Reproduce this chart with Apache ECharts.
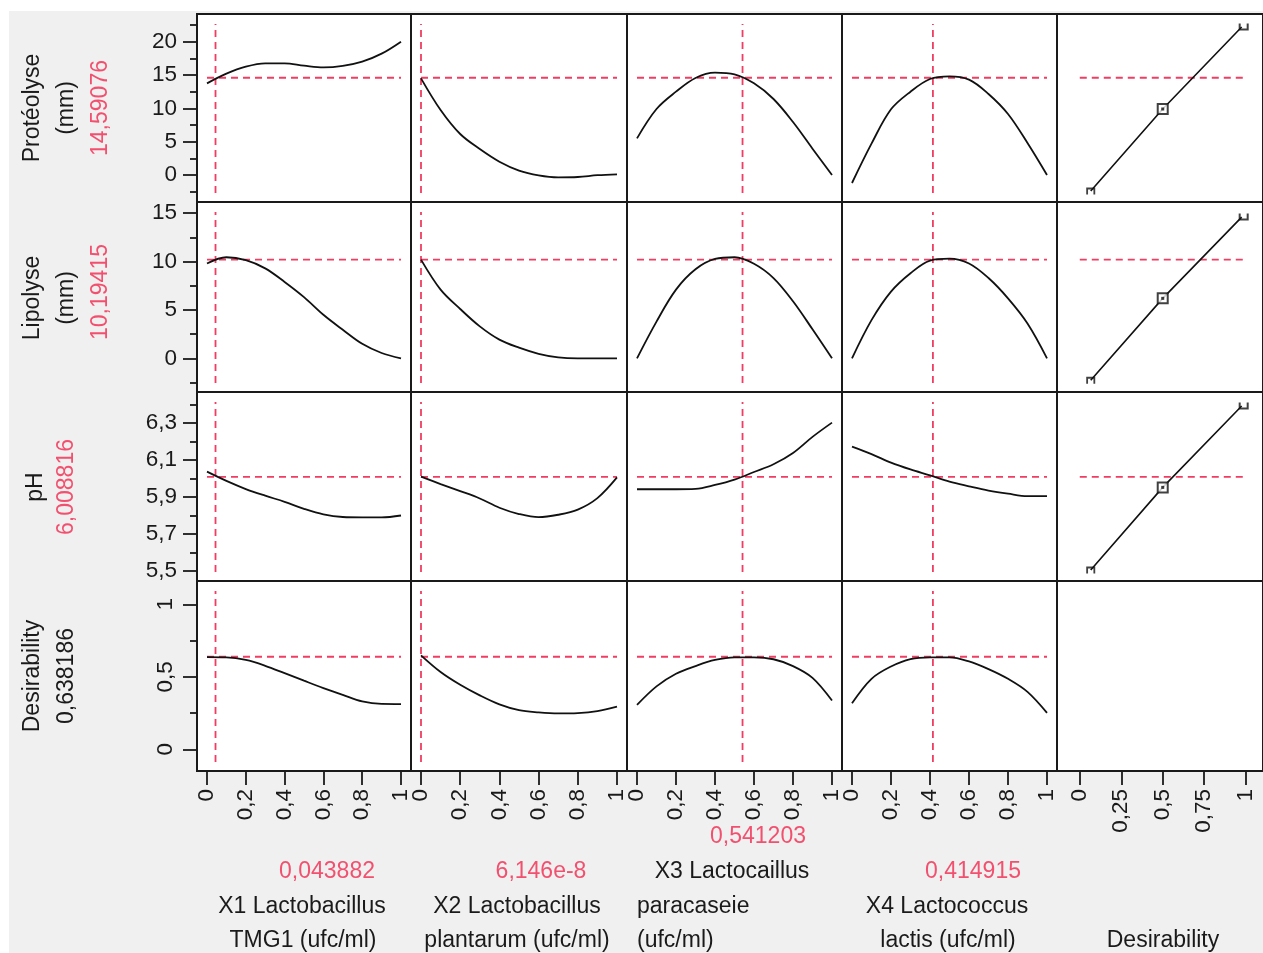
<!DOCTYPE html>
<html>
<head>
<meta charset="utf-8">
<script src="https://cdn.jsdelivr.net/npm/echarts@6/dist/echarts.min.js"></script>
<style>
  html, body { margin: 0; padding: 0; background: #fff; }
  #wrap { position: relative; width: 1263px; height: 953px; background: #fff; overflow: hidden; }
  #gray { position: absolute; left: 9px; top: 11px; width: 1254px; height: 942px; background: #f0f0f0; }
  #chart { position: absolute; left: 0; top: 0; width: 1263px; height: 953px; }
</style>
</head>
<body>
<div id="wrap"><div id="gray"></div><div id="chart"></div></div>
<script>
// ---------------- DATA ----------------
const xGrid = [0, 0.1, 0.2, 0.3, 0.4, 0.5, 0.6, 0.7, 0.8, 0.9, 1];

// Protéolyse (mm)
const protX1 = [13.75, 15.2, 16.25, 16.75, 16.75, 16.4, 16.13, 16.36, 17.0, 18.2, 20.0];
const protX2 = [14.5, 9.75, 6.15, 3.9, 2.0, 0.67, -0.05, -0.35, -0.3, -0.03, 0.1];
const protX3 = [5.5, 9.9, 12.5, 14.55, 15.35, 15.1, 13.75, 11.4, 7.95, 3.95, 0];
const protX4 = [-1.2, 4.7, 9.85, 12.5, 14.4, 14.8, 14.3, 12.15, 9.15, 4.8, 0];

// Lipolyse (mm)
const lipoX1 = [9.8, 10.45, 10.15, 9.3, 7.9, 6.33, 4.5, 2.95, 1.5, 0.55, 0];
const lipoX2 = [10.2, 7.1, 5.1, 3.3, 1.93, 1.1, 0.47, 0.1, 0, 0, 0];
const lipoX3 = [0, 3.8, 7.1, 9.2, 10.27, 10.45, 9.78, 8.3, 5.9, 3.0, 0];
const lipoX4 = [0, 3.95, 6.9, 8.8, 10.1, 10.3, 9.8, 8.3, 6.2, 3.6, 0];

// pH
const phX1 = [6.037, 5.987, 5.943, 5.907, 5.874, 5.836, 5.806, 5.792, 5.79, 5.79, 5.80];
const phX2 = [6.010, 5.970, 5.932, 5.892, 5.842, 5.808, 5.791, 5.804, 5.832, 5.894, 6.006];
const phX3 = [5.942, 5.942, 5.942, 5.944, 5.965, 5.994, 6.035, 6.077, 6.138, 6.225, 6.302];
const phX4 = [6.172, 6.132, 6.086, 6.049, 6.017, 5.983, 5.958, 5.935, 5.918, 5.905, 5.905];

// Desirability
const desX1 = [0.636, 0.634, 0.616, 0.576, 0.525, 0.473, 0.422, 0.375, 0.33, 0.313, 0.312];
const desX2 = [0.648, 0.533, 0.445, 0.372, 0.31, 0.27, 0.255, 0.248, 0.25, 0.263, 0.294];
const desX3 = [0.306, 0.434, 0.521, 0.574, 0.616, 0.634, 0.634, 0.621, 0.574, 0.493, 0.336];
const desX4 = [0.317, 0.486, 0.571, 0.622, 0.634, 0.634, 0.606, 0.553, 0.486, 0.396, 0.251];

// current factor settings (red vertical lines) and predicted responses (red horizontal lines)
const factorSettings = [0.043882, 6.146e-8, 0.541203, 0.414915];
const factorSettingLabels = ['0,043882', '6,146e-8', '0,541203', '0,414915'];
const predicted = [14.59076, 10.19415, 6.008816, 0.638186];
const predictedLabels = ['14,59076', '10,19415', '6,008816', '0,638186'];

// desirability function handles (desirability, response) for the 3 responses
const desHandleD = [0.066, 0.5, 0.976];
const desHandleProt = [-2.4, 9.9, 22.2];
const desHandleLipo = [-2.27, 6.2, 14.6];
const desHandlePH = [5.505, 5.952, 6.392];

// axis ranges and ticks
const yRanges = [[-4.05, 24.15], [-3.48, 16.16], [5.4459, 6.4676], [-0.1497, 1.1607]];
const yMajorTicks = [[0, 5, 10, 15, 20], [0, 5, 10, 15], [5.5, 5.7, 5.9, 6.1, 6.3], [0, 0.5, 1]];
const yMinorTicks = [[-2.5, 2.5, 7.5, 12.5, 17.5, 22.5], [-2.5, 2.5, 7.5, 12.5], [5.6, 5.8, 6.0, 6.2, 6.4], [0.25, 0.75]];
const xFactorTicks = [0, 0.2, 0.4, 0.6, 0.8, 1];
const xDesTicks = [0, 0.25, 0.5, 0.75, 1];

const curves = [
  [protX1, protX2, protX3, protX4],
  [lipoX1, lipoX2, lipoX3, lipoX4],
  [phX1, phX2, phX3, phX4],
  [desX1, desX2, desX3, desX4]
];
const desHandles = [desHandleProt, desHandleLipo, desHandlePH];

// ---------------- LAYOUT ----------------
const colLeft = [197, 411, 627, 842, 1057];
const colWidth = [214, 216, 215, 215, 208];
const rowTop = [14, 202, 392, 581];
const rowHeight = [188, 190, 189, 190];
const desPxPerUnit = 167.5, desZeroOffset = 23;

const FONT = '"Liberation Sans", Arial, sans-serif';
const TXT = '#1a1a1a';
const RED_TXT = '#f2506e';
const RED_LINE = '#f23c62';
const fmt = v => String(Math.round(v * 1000) / 1000).replace('.', ',');

const grids = [], xAxes = [], yAxes = [], series = [];

for (let r = 0; r < 4; r++) {
  for (let c = 0; c < 5; c++) {
    const g = r * 5 + c;
    grids.push({
      left: colLeft[c], top: rowTop[r], width: colWidth[c], height: rowHeight[r],
      show: true, backgroundColor: '#ffffff', borderColor: '#1a1a1a', borderWidth: 2
    });
    let xmin, xmax, xt;
    if (c < 4) {
      const span = colWidth[c] - 20;
      xmin = -10 / span; xmax = 1 + 10 / span; xt = xFactorTicks;
    } else {
      xmin = -desZeroOffset / desPxPerUnit; xmax = xmin + colWidth[c] / desPxPerUnit; xt = xDesTicks;
    }
    xAxes.push({
      gridIndex: g, type: 'value', min: xmin, max: xmax, position: 'bottom',
      axisLine: { show: false, onZero: false }, splitLine: { show: false },
      axisTick: { show: r === 3, inside: false, length: 14, customValues: xt, lineStyle: { color: TXT, width: 1.8 } },
      axisLabel: { show: r === 3, customValues: xt, rotate: 90, margin: 18, formatter: fmt,
        fontSize: 22.5, color: TXT, fontFamily: FONT }
    });
    yAxes.push({
      gridIndex: g, type: 'value', min: yRanges[r][0], max: yRanges[r][1], position: 'left',
      axisLine: { show: false, onZero: false }, splitLine: { show: false },
      axisTick: { show: c === 0, inside: false, length: 14, customValues: yMajorTicks[r], lineStyle: { color: TXT, width: 1.8 } },
      axisLabel: { show: c === 0, customValues: yMajorTicks[r], formatter: fmt, margin: 20,
        rotate: r === 3 ? 90 : 0, fontSize: 22.5, color: TXT, fontFamily: FONT }
    });

    const yr = yRanges[r];
    const ySpan = yr[1] - yr[0];
    const yLo = yr[0] + ySpan * 9 / rowHeight[r];
    const yHi = yr[1] - ySpan * 10 / rowHeight[r];
    const dash = { color: RED_LINE, width: 1.8, type: [7, 5] };

    if (c < 4) {
      series.push({
        type: 'line', xAxisIndex: g, yAxisIndex: g, silent: true, symbol: 'none', z: 2,
        lineStyle: dash, data: [[factorSettings[c], yLo], [factorSettings[c], yHi]]
      });
      series.push({
        type: 'line', xAxisIndex: g, yAxisIndex: g, silent: true, symbol: 'none', z: 2,
        lineStyle: dash, data: [[0, predicted[r]], [1, predicted[r]]]
      });
      series.push({
        type: 'line', xAxisIndex: g, yAxisIndex: g, silent: true, symbol: 'none', z: 3,
        smooth: 0.35, lineStyle: { color: '#111', width: 1.8 },
        data: xGrid.map((x, i) => [x, curves[r][c][i]])
      });
    } else if (r < 3) {
      const h = desHandles[r];
      series.push({
        type: 'line', xAxisIndex: g, yAxisIndex: g, silent: true, symbol: 'none', z: 2,
        lineStyle: dash, data: [[0, predicted[r]], [1, predicted[r]]]
      });
      series.push({
        type: 'line', xAxisIndex: g, yAxisIndex: g, silent: true, symbol: 'none', z: 3,
        lineStyle: { color: '#111', width: 1.6 },
        data: desHandleD.map((d, i) => [d, h[i]])
      });
      series.push({
        type: 'scatter', xAxisIndex: g, yAxisIndex: g, silent: true, z: 4,
        data: [
          { value: [desHandleD[0], h[0]], symbol: 'path://M0,0 L10,0 L10,7 L8,7 L8,2 L2,2 L2,7 L0,7 Z', symbolSize: [9, 7], itemStyle: { color: '#111' } },
          { value: [desHandleD[1], h[1]], symbol: 'rect', symbolSize: 10, itemStyle: { color: '#ffffff', borderColor: '#111', borderWidth: 2 } },
          { value: [desHandleD[2], h[2]], symbol: 'path://M0,0 L2,0 L2,5 L8,5 L8,0 L10,0 L10,7 L0,7 Z', symbolSize: [10, 7], symbolOffset: [2, 0], itemStyle: { color: '#111' } }
        ]
      });
      series.push({
        type: 'scatter', xAxisIndex: g, yAxisIndex: g, silent: true, z: 5,
        symbol: 'rect', symbolSize: 3, itemStyle: { color: '#111' },
        data: [[desHandleD[1], h[1]]]
      });
    }
  }
}
// minor ticks on the first column
for (let r = 0; r < 4; r++) {
  yAxes.push({
    gridIndex: r * 5, type: 'value', min: yRanges[r][0], max: yRanges[r][1], position: 'left',
    axisLine: { show: false, onZero: false }, splitLine: { show: false },
    axisTick: { show: true, inside: false, length: 7, customValues: yMinorTicks[r], lineStyle: { color: TXT, width: 1.8 } },
    axisLabel: { show: false }
  });
}

// ---------------- TEXTS ----------------
const rowTitles = [
  [['Protéolyse', 33, 108, TXT], ['(mm)', 67, 108, TXT], [predictedLabels[0], 101, 108, RED_TXT]],
  [['Lipolyse', 33, 298, TXT], ['(mm)', 67, 298, TXT], [predictedLabels[1], 101, 292, RED_TXT]],
  [['pH', 36, 487, TXT], [predictedLabels[2], 67, 487, RED_TXT]],
  [['Desirability', 33, 676, TXT], [predictedLabels[3], 67, 676, TXT]]
];
const colTitles = [
  [factorSettingLabels[0], 327, 872, RED_TXT, 'center'],
  ['X1 Lactobacillus', 302, 907, TXT, 'center'],
  ['TMG1 (ufc/ml)', 303, 941, TXT, 'center'],
  [factorSettingLabels[1], 541, 872, RED_TXT, 'center'],
  ['X2 Lactobacillus', 517, 907, TXT, 'center'],
  ['plantarum (ufc/ml)', 517, 941, TXT, 'center'],
  [factorSettingLabels[2], 758, 837, RED_TXT, 'center'],
  ['X3 Lactocaillus', 732, 872, TXT, 'center'],
  ['paracaseie', 637, 907, TXT, 'left'],
  ['(ufc/ml)', 637, 941, TXT, 'left'],
  [factorSettingLabels[3], 973, 872, RED_TXT, 'center'],
  ['X4 Lactococcus', 947, 907, TXT, 'center'],
  ['lactis (ufc/ml)', 948, 941, TXT, 'center'],
  ['Desirability', 1163, 941, TXT, 'center']
];
const graphic = [];
rowTitles.forEach(row => row.forEach(t => {
  graphic.push({
    type: 'text', x: t[1], y: t[2], rotation: Math.PI / 2, silent: true,
    style: { text: t[0], fill: t[3], font: '23px ' + FONT,
      textAlign: 'center', textVerticalAlign: 'middle', align: 'center', verticalAlign: 'middle' }
  });
}));
colTitles.forEach(t => {
  graphic.push({
    type: 'text', x: t[1], y: t[2], silent: true,
    style: { text: t[0], fill: t[3], font: '23px ' + FONT,
      textAlign: t[4], textVerticalAlign: 'middle', align: t[4], verticalAlign: 'middle' }
  });
});

const chart = echarts.init(document.getElementById('chart'), null, { renderer: 'canvas' });
chart.setOption({
  backgroundColor: 'transparent',
  animation: false,
  grid: grids,
  xAxis: xAxes,
  yAxis: yAxes,
  series: series,
  graphic: graphic
});
</script>
</body>
</html>
